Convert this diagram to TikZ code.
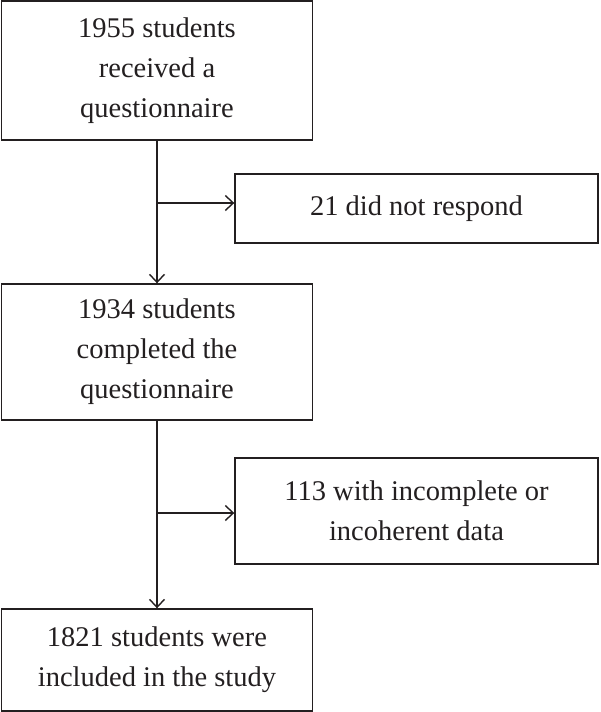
\documentclass[tikz,border=0pt]{standalone}
\usepackage{fontspec}
\setmainfont{Liberation Serif}
\usetikzlibrary{arrows.meta}
\definecolor{ink}{HTML}{231F20}
\begin{document}
\begin{tikzpicture}[x=1pt,y=-1pt,
  box/.style={draw=ink,line width=1.4pt,text=ink,align=center,inner sep=0pt,
    font=\fontsize{28.5}{40}\selectfont},
  conn/.style={draw=ink,line width=1.4pt,-{Straight Barb[length=8pt,width=15pt,line width=1.4pt]}}]
\useasboundingbox (0,0) rectangle (600,712);
\node[box,minimum width=311pt,minimum height=139pt] (b1) at (157,70.5) {1955 students\\received a\\questionnaire};
\node[box,minimum width=363pt,minimum height=69pt] (b2) at (416.5,208.5) {21 did not respond};
\node[box,minimum width=311pt,minimum height=136pt] (b3) at (157,352) {1934 students\\completed the\\questionnaire};
\node[box,minimum width=363pt,minimum height=106pt] (b4) at (416.5,511) {113 with incomplete or\\incoherent data};
\node[box,minimum width=311pt,minimum height=102pt] (b5) at (157,660) {1821 students were\\included in the study};
\coordinate (j1) at (157,203);
\coordinate (j2) at (157,513);
\draw[conn] (b1.south) -- (b3.north);
\draw[conn] (j1) -- (j1 -| b2.west);
\draw[conn] (b3.south) -- (b5.north);
\draw[conn] (j2) -- (j2 -| b4.west);
\end{tikzpicture}
\end{document}
